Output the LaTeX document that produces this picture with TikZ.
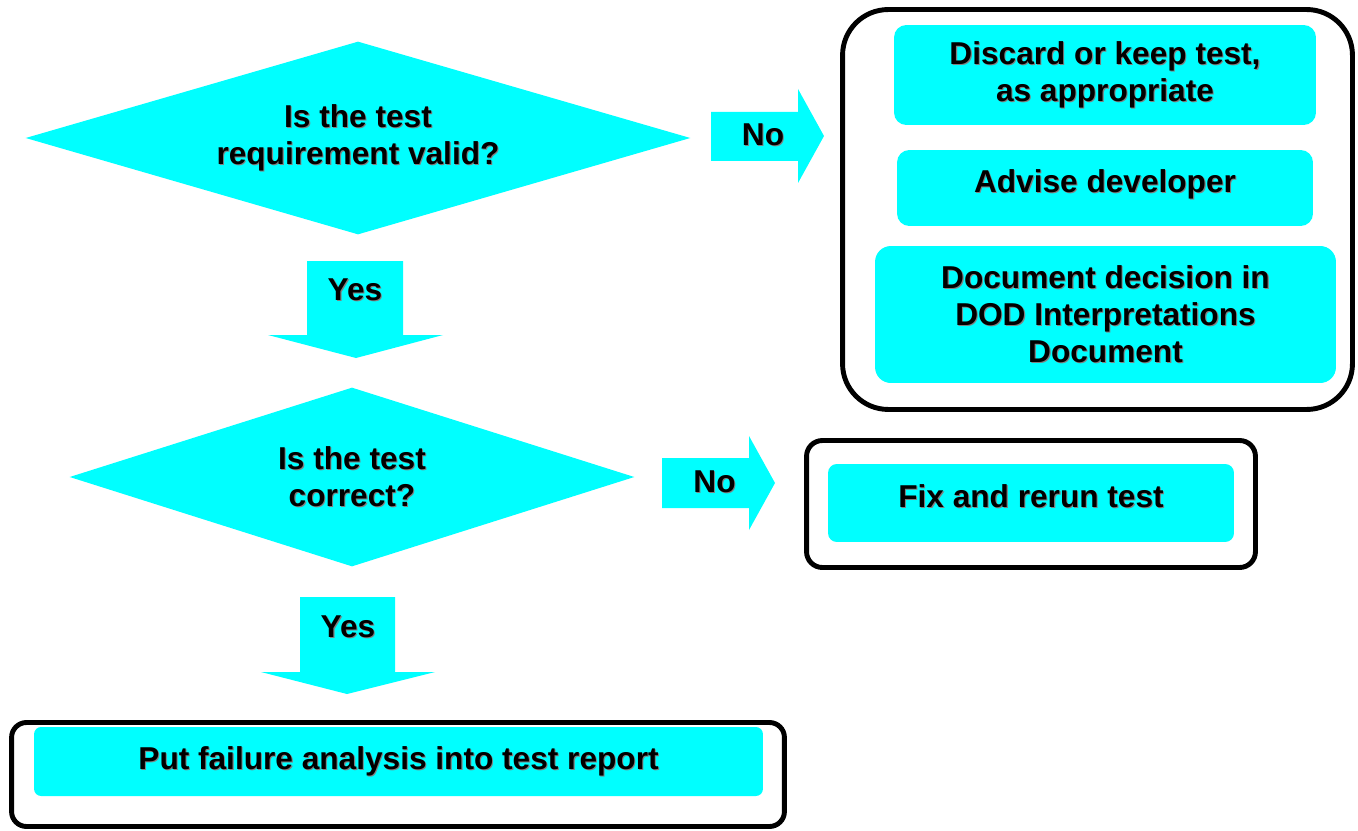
\documentclass[tikz,border=0pt]{standalone}
\usepackage{fontspec}
\setmainfont{Liberation Sans}
\usepackage{tikz}
\usepackage{xcolor}
\usetikzlibrary{positioning,shapes.geometric,calc}
\definecolor{aqua}{RGB}{0,255,255}
\newcommand{\shd}[1]{\rlap{\kern0.6pt\raisebox{-0.6pt}{\textcolor{gray}{#1}}}#1}

\begin{document}
\begin{tikzpicture}[x=0.02cm, y=-0.02cm,
    txt/.style={font=\fontsize{18}{21}\selectfont\bfseries, align=center, inner sep=0pt},
    decision/.style={txt, diamond, aspect=3.4, fill=aqua},
    task/.style={txt, rectangle, fill=aqua, rounded corners=#1},
    groupbox/.style={draw, line width=2.8pt, rounded corners=#1},
    flow/.style={fill=aqua}]
    \useasboundingbox (0,0) rectangle (1358,831);

    % Decisions
    \node[decision, minimum width=13.3cm, minimum height=3.86cm] (valid) at (358,138)
        {\shd{Is the test}\\\shd{requirement valid?}};
    \node[decision, minimum width=11.3cm, minimum height=3.58cm] (correct) at (352,477)
        {\shd{Is the test}\\\shd{correct?}};

    % Group boxes
    \node[groupbox=26pt, minimum width=10.2cm, minimum height=8.0cm] (grpA) at (1097.5,209.5) {};
    \node[groupbox=9pt, minimum width=8.98cm, minimum height=2.54cm] (grpB) at (1031,504) {};
    \node[groupbox=8.5pt, minimum width=15.46cm, minimum height=2.08cm] (grpC) at (398,774.5) {};

    % Actions
    \node[task=7pt, minimum width=8.44cm, minimum height=2.0cm] (discard) at (1105,75)
        {\shd{Discard or keep test,}\\\shd{as appropriate}};
    \node[task=7pt, minimum width=8.32cm, minimum height=1.52cm, text depth=8.4pt] (advise) at (1105,188)
        {\shd{Advise developer}};
    \node[task=9pt, minimum width=9.22cm, minimum height=2.74cm] (docdec) at (1105.5,314.5)
        {\shd{Document decision in}\\\shd{DOD Interpretations}\\\shd{Document}};
    \node[task=5pt, minimum width=8.12cm, minimum height=1.56cm, text depth=8.4pt] (fix) at (1031,503)
        {\shd{Fix and rerun test}};
    \node[task=4pt, minimum width=14.58cm, minimum height=1.38cm] (report) at (398.5,761.5)
        {\shd{Put failure analysis into test report}};

    % Yes arrows
    \fill[flow] (307,261) -- (403,261) -- (403,335) -- (443,335) -- (356,358) -- (268,335) -- (307,335) -- cycle;
    \node[txt] (yesA) at (355,290) {\shd{Yes}};
    \fill[flow] (300,597) -- (395,597) -- (395,672) -- (435,672) -- (347,694) -- (261,672) -- (300,672) -- cycle;
    \node[txt] (yesB) at (348,627) {\shd{Yes}};

    % No arrows
    \fill[flow] (711,112) -- (798,112) -- (798,89) -- (824,136) -- (798,183) -- (798,161) -- (711,161) -- cycle;
    \node[txt] (noA) at (763,135) {\shd{No}};
    \fill[flow] (662,458) -- (749,458) -- (749,436) -- (775,483) -- (749,530) -- (749,508) -- (662,508) -- cycle;
    \node[txt] (noB) at (714.5,482) {\shd{No}};
\end{tikzpicture}
\end{document}
